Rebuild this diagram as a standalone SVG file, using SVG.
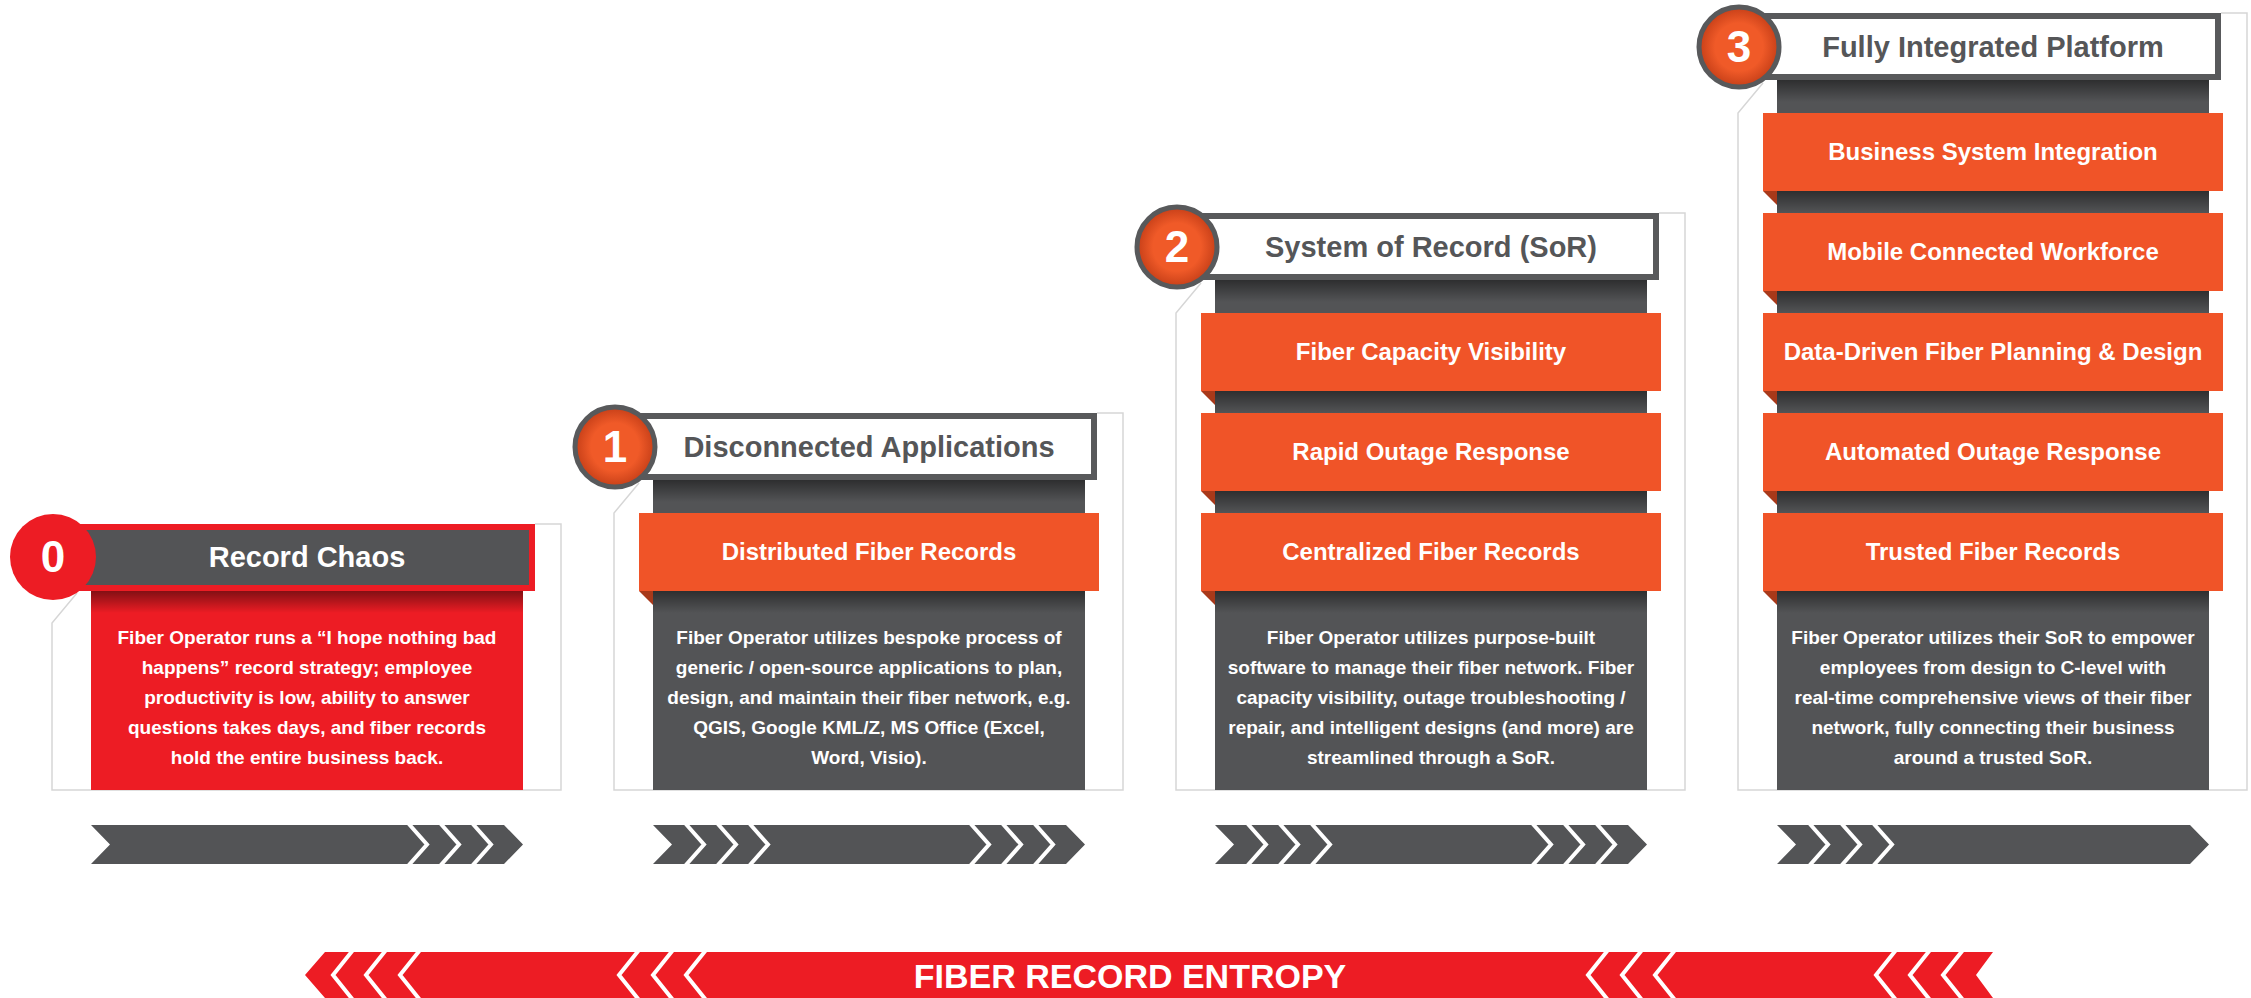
<svg xmlns="http://www.w3.org/2000/svg" width="2251" height="998" viewBox="0 0 2251 998">
<defs>
<linearGradient id="shadow" x1="0" y1="0" x2="0" y2="1">
<stop offset="0" stop-color="#000" stop-opacity="0.45"/>
<stop offset="1" stop-color="#000" stop-opacity="0"/>
</linearGradient>
<radialGradient id="orb" cx="0.5" cy="0.5" r="0.5">
<stop offset="0.6" stop-color="#F05A28"/>
<stop offset="1" stop-color="#C63F18"/>
</radialGradient>
<style>
.outline{fill:none;stroke:#D6D6D6;stroke-width:1.5}
.col{fill:#535456}
.bar{fill:#F05428}
.fold{fill:#A8391A}
.hdr{fill:#fff;stroke:#58595B;stroke-width:6}
.orb{fill:url(#orb);stroke:#58595B;stroke-width:5}
.shd{fill:url(#shadow)}
.chev{fill:#535456}
.sep{fill:none;stroke:#fff;stroke-width:4}
.rsep{fill:none;stroke:#fff;stroke-width:4}
.t{font-family:"Liberation Sans",Arial,sans-serif;font-weight:bold;text-anchor:middle}
.num{font-size:44px;fill:#fff}
.htxt{font-size:29px;fill:#555658}
.btxt{font-size:24px;fill:#fff}
.dtxt{font-size:19px;fill:#fff}
.big{font-size:34px;fill:#fff}
</style>
</defs>
<rect width="2251" height="998" fill="#fff"/>

<g id="panel-0">
<path class="outline" d="M535 524 H561 V790 H52 V623 L77 593"/>
<rect x="91" y="591" width="432" height="199" fill="#ED1C24"/>
<rect x="91" y="591" width="432" height="22" class="shd"/>
<rect x="56" y="527" width="476" height="61" fill="#535456" stroke="#ED1C24" stroke-width="6"/>
<circle cx="53" cy="557" r="43" fill="#ED1C24"/>
<text class="t num" x="53" y="572">0</text>
<text class="t htxt" x="307" y="567" fill="#fff" style="fill:#fff">Record Chaos</text>
<text class="t dtxt" x="307" y="644">Fiber Operator runs a “I hope nothing bad</text>
<text class="t dtxt" x="307" y="674">happens” record strategy; employee</text>
<text class="t dtxt" x="307" y="704">productivity is low, ability to answer</text>
<text class="t dtxt" x="307" y="734">questions takes days, and fiber records</text>
<text class="t dtxt" x="307" y="764">hold the entire business back.</text>
<polygon class="chev" points="91,825 504,825 523,844.5 504,864 91,864 110,844.5"/>
<polyline class="sep" points="408,823 427,844.5 408,866"/>
<polyline class="sep" points="440,823 459,844.5 440,866"/>
<polyline class="sep" points="472,823 491,844.5 472,866"/>
</g>

<g id="panel-1">
<path class="outline" d="M1097 413 H1123 V790 H614 V513 L639 483"/>
<rect class="col" x="653" y="480" width="432" height="310"/>
<rect class="shd" x="653" y="480" width="432" height="22"/>
<rect class="bar" x="639" y="513" width="460" height="78"/>
<polygon class="fold" points="639,591 653,591 653,605"/>
<rect class="shd" x="653" y="591" width="432" height="22"/>
<rect class="hdr" x="615" y="416" width="479" height="61"/>
<circle class="orb" cx="615" cy="447" r="40"/>
<text class="t num" x="615" y="462">1</text>
<text class="t htxt" x="869" y="457">Disconnected Applications</text>
<text class="t btxt" x="869" y="560">Distributed Fiber Records</text>
<text class="t dtxt" x="869" y="644">Fiber Operator utilizes bespoke process of</text>
<text class="t dtxt" x="869" y="674">generic / open-source applications to plan,</text>
<text class="t dtxt" x="869" y="704">design, and maintain their fiber network, e.g.</text>
<text class="t dtxt" x="869" y="734">QGIS, Google KML/Z, MS Office (Excel,</text>
<text class="t dtxt" x="869" y="764">Word, Visio).</text>
<polygon class="chev" points="653,825 1066,825 1085,844.5 1066,864 653,864 672,844.5"/>
<polyline class="sep" points="685,823 704,844.5 685,866"/>
<polyline class="sep" points="717,823 736,844.5 717,866"/>
<polyline class="sep" points="749,823 768,844.5 749,866"/>
<polyline class="sep" points="970,823 989,844.5 970,866"/>
<polyline class="sep" points="1002,823 1021,844.5 1002,866"/>
<polyline class="sep" points="1034,823 1053,844.5 1034,866"/>
</g>

<g id="panel-2">
<path class="outline" d="M1659 213 H1685 V790 H1176 V313 L1201 283"/>
<rect class="col" x="1215" y="280" width="432" height="510"/>
<rect class="shd" x="1215" y="280" width="432" height="22"/>
<rect class="bar" x="1201" y="313" width="460" height="78"/>
<polygon class="fold" points="1201,391 1215,391 1215,405"/>
<rect class="shd" x="1215" y="391" width="432" height="22"/>
<rect class="bar" x="1201" y="413" width="460" height="78"/>
<polygon class="fold" points="1201,491 1215,491 1215,505"/>
<rect class="shd" x="1215" y="491" width="432" height="22"/>
<rect class="bar" x="1201" y="513" width="460" height="78"/>
<polygon class="fold" points="1201,591 1215,591 1215,605"/>
<rect class="shd" x="1215" y="591" width="432" height="22"/>
<rect class="hdr" x="1177" y="216" width="479" height="61"/>
<circle class="orb" cx="1177" cy="247" r="40"/>
<text class="t num" x="1177" y="262">2</text>
<text class="t htxt" x="1431" y="257">System of Record (SoR)</text>
<text class="t btxt" x="1431" y="360">Fiber Capacity Visibility</text>
<text class="t btxt" x="1431" y="460">Rapid Outage Response</text>
<text class="t btxt" x="1431" y="560">Centralized Fiber Records</text>
<text class="t dtxt" x="1431" y="644">Fiber Operator utilizes purpose-built</text>
<text class="t dtxt" x="1431" y="674">software to manage their fiber network. Fiber</text>
<text class="t dtxt" x="1431" y="704">capacity visibility, outage troubleshooting /</text>
<text class="t dtxt" x="1431" y="734">repair, and intelligent designs (and more) are</text>
<text class="t dtxt" x="1431" y="764">streamlined through a SoR.</text>
<polygon class="chev" points="1215,825 1628,825 1647,844.5 1628,864 1215,864 1234,844.5"/>
<polyline class="sep" points="1247,823 1266,844.5 1247,866"/>
<polyline class="sep" points="1279,823 1298,844.5 1279,866"/>
<polyline class="sep" points="1311,823 1330,844.5 1311,866"/>
<polyline class="sep" points="1532,823 1551,844.5 1532,866"/>
<polyline class="sep" points="1564,823 1583,844.5 1564,866"/>
<polyline class="sep" points="1596,823 1615,844.5 1596,866"/>
</g>

<g id="panel-3">
<path class="outline" d="M2221 13 H2247 V790 H1738 V113 L1763 83"/>
<rect class="col" x="1777" y="80" width="432" height="710"/>
<rect class="shd" x="1777" y="80" width="432" height="22"/>
<rect class="bar" x="1763" y="113" width="460" height="78"/>
<polygon class="fold" points="1763,191 1777,191 1777,205"/>
<rect class="shd" x="1777" y="191" width="432" height="22"/>
<rect class="bar" x="1763" y="213" width="460" height="78"/>
<polygon class="fold" points="1763,291 1777,291 1777,305"/>
<rect class="shd" x="1777" y="291" width="432" height="22"/>
<rect class="bar" x="1763" y="313" width="460" height="78"/>
<polygon class="fold" points="1763,391 1777,391 1777,405"/>
<rect class="shd" x="1777" y="391" width="432" height="22"/>
<rect class="bar" x="1763" y="413" width="460" height="78"/>
<polygon class="fold" points="1763,491 1777,491 1777,505"/>
<rect class="shd" x="1777" y="491" width="432" height="22"/>
<rect class="bar" x="1763" y="513" width="460" height="78"/>
<polygon class="fold" points="1763,591 1777,591 1777,605"/>
<rect class="shd" x="1777" y="591" width="432" height="22"/>
<rect class="hdr" x="1739" y="16" width="479" height="61"/>
<circle class="orb" cx="1739" cy="47" r="40"/>
<text class="t num" x="1739" y="62">3</text>
<text class="t htxt" x="1993" y="57">Fully Integrated Platform</text>
<text class="t btxt" x="1993" y="160">Business System Integration</text>
<text class="t btxt" x="1993" y="260">Mobile Connected Workforce</text>
<text class="t btxt" x="1993" y="360">Data-Driven Fiber Planning &amp; Design</text>
<text class="t btxt" x="1993" y="460">Automated Outage Response</text>
<text class="t btxt" x="1993" y="560">Trusted Fiber Records</text>
<text class="t dtxt" x="1993" y="644">Fiber Operator utilizes their SoR to empower</text>
<text class="t dtxt" x="1993" y="674">employees from design to C-level with</text>
<text class="t dtxt" x="1993" y="704">real-time comprehensive views of their fiber</text>
<text class="t dtxt" x="1993" y="734">network, fully connecting their business</text>
<text class="t dtxt" x="1993" y="764">around a trusted SoR.</text>
<polygon class="chev" points="1777,825 2190,825 2209,844.5 2190,864 1777,864 1796,844.5"/>
<polyline class="sep" points="1809,823 1828,844.5 1809,866"/>
<polyline class="sep" points="1841,823 1860,844.5 1841,866"/>
<polyline class="sep" points="1873,823 1892,844.5 1873,866"/>
</g>

<g id="entropy-bar">
<polygon fill="#ED1C24" points="325,952 1993,952 1976,975 1993,998 325,998 305,975"/>
<polyline class="rsep" points="353,950 333,975 353,1000"/>
<polyline class="rsep" points="386,950 366,975 386,1000"/>
<polyline class="rsep" points="420,950 400,975 420,1000"/>
<polyline class="rsep" points="639,950 619,975 639,1000"/>
<polyline class="rsep" points="673,950 653,975 673,1000"/>
<polyline class="rsep" points="706,950 686,975 706,1000"/>
<polyline class="rsep" points="1608,950 1588,975 1608,1000"/>
<polyline class="rsep" points="1642,950 1622,975 1642,1000"/>
<polyline class="rsep" points="1675,950 1655,975 1675,1000"/>
<polyline class="rsep" points="1896,950 1876,975 1896,1000"/>
<polyline class="rsep" points="1930,950 1910,975 1930,1000"/>
<polyline class="rsep" points="1963,950 1943,975 1963,1000"/>
<text class="t big" x="1130" y="988">FIBER RECORD ENTROPY</text>
</g>
</svg>
